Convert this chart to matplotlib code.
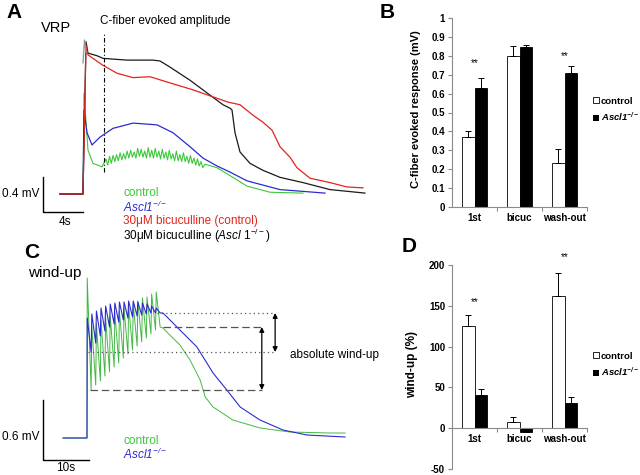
import numpy as np
import matplotlib.pyplot as plt
from matplotlib.patches import Patch

plt.rcParams['font.family'] = ['Liberation Sans', 'DejaVu Sans']
plt.rcParams['mathtext.fontset'] = 'custom'
plt.rcParams['mathtext.rm'] = 'Liberation Sans'
plt.rcParams['mathtext.it'] = 'Liberation Sans:italic'
plt.rcParams['mathtext.bf'] = 'Liberation Sans:bold'

# ---- Panel A: VRP traces, time (s) after stimulus vs amplitude (mV)
a_black_t = [-2.3, 0.0, 0.3, 0.5, 1.4, 2.0, 4.4, 7.0, 7.7, 8.7, 10.7, 12.7, 14.0, 14.7, 14.9,
             15.2, 15.7, 16.7, 18.0, 19.7, 22.0, 24.7, 28.2]
a_black_v = [0.0, 0.0, 1.74, 1.61, 1.58, 1.55, 1.53, 1.53, 1.52, 1.45, 1.30, 1.13, 1.02, 0.98, 0.96,
             0.70, 0.48, 0.35, 0.27, 0.19, 0.13, 0.05, 0.01]
a_red_t = [-2.3, 0.0, 0.3, 0.5, 2.0, 3.4, 5.0, 6.7, 8.4, 11.0, 13.0, 14.5, 14.9, 15.7, 17.0, 18.0,
           18.9, 19.7, 20.7, 21.4, 22.7, 24.7, 26.4, 28.0]
a_red_v = [0.0, 0.0, 1.70, 1.59, 1.47, 1.38, 1.33, 1.34, 1.28, 1.19, 1.11, 1.05, 1.04, 1.02, 0.90, 0.82,
           0.73, 0.54, 0.42, 0.30, 0.18, 0.13, 0.08, 0.07]
a_blue_t = [-2.3, 0.0, 0.1, 0.4, 0.9, 1.7, 3.0, 5.0, 7.4, 9.0, 10.7, 12.0, 13.4, 14.7, 16.4, 19.7, 24.2]
a_blue_v = [0.0, 0.0, 0.96, 0.70, 0.56, 0.65, 0.75, 0.81, 0.79, 0.70, 0.54, 0.41, 0.32, 0.25, 0.15, 0.05, 0.01]
a_green_head_t = [-2.3, 0.0, 0.1, 0.5, 1.0, 1.9]
a_green_head_v = [0.0, 0.0, 1.15, 0.50, 0.35, 0.31]
# ripple of the control trace (peaks / troughs)
a_green_hi = [0.40, 0.43, 0.44, 0.45, 0.47, 0.46, 0.49, 0.50, 0.48, 0.52, 0.51, 0.49, 0.53, 0.50,
              0.52, 0.49, 0.51, 0.48, 0.50, 0.46, 0.49, 0.45, 0.47, 0.43, 0.44, 0.41, 0.40, 0.37]
a_green_lo = [0.33, 0.35, 0.37, 0.38, 0.39, 0.40, 0.41, 0.42, 0.41, 0.43, 0.42, 0.41, 0.42, 0.41,
              0.42, 0.40, 0.41, 0.39, 0.40, 0.38, 0.38, 0.37, 0.37, 0.35, 0.35, 0.33, 0.32, 0.30]
a_green_tail_t = [12.2, 13.4, 14.7, 16.4, 18.7, 22.0]
a_green_tail_v = [0.34, 0.30, 0.21, 0.09, 0.02, 0.01]
a_artifact_t = [0.0, 0.15, 0.3]
a_artifact_v = [1.50, 1.76, 1.62]

# ---- Panel C: wind-up, 16 stimuli at 1 Hz
c_n_stim = 16
c_green_peaks = [1.60, 1.12, 1.14, 1.18, 1.20, 1.22, 1.26, 1.27, 1.30, 1.33, 1.34, 1.37, 1.40, 1.41, 1.44, 1.46]
c_green_troughs = [0.48, 0.53, 0.57, 0.62, 0.66, 0.71, 0.75, 0.80, 0.84, 0.88, 0.92, 0.96, 1.00, 1.04, 1.08, 1.11]
c_blue_peaks = [1.20, 1.24, 1.27, 1.30, 1.32, 1.34, 1.35, 1.36, 1.36, 1.37, 1.37, 1.36, 1.35, 1.34, 1.32, 1.30]
c_blue_troughs = [0.86, 0.95, 1.02, 1.07, 1.11, 1.14, 1.16, 1.18, 1.20, 1.21, 1.22, 1.23, 1.24, 1.25, 1.25, 1.25]
c_green_tail_t = [16.5, 18.0, 20.2, 22.4, 24.6, 25.7, 27.4, 31.7, 37.6, 44.1, 52.8, 56.1]
c_green_tail_v = [1.10, 1.03, 0.93, 0.78, 0.58, 0.41, 0.31, 0.18, 0.10, 0.06, 0.05, 0.05]
c_blue_tail_t = [16.5, 17.4, 20.2, 23.9, 27.4, 30.4, 33.3, 37.6, 42.6, 47.8, 56.1]
c_blue_tail_v = [1.25, 1.21, 1.08, 0.91, 0.65, 0.48, 0.31, 0.18, 0.08, 0.03, 0.01]

# ---- Panels B and D: bar charts
categories = ['1st', 'bicuc', 'wash-out']
b_ctrl = [0.37, 0.80, 0.235]
b_ctrl_err = [0.03, 0.05, 0.07]
b_ko = [0.63, 0.845, 0.71]
b_ko_err = [0.055, 0.01, 0.035]
b_stars = [0.76, None, 0.80]
d_ctrl = [125, 7, 162]
d_ctrl_err = [14, 7, 28]
d_ko = [41, -5, 31]
d_ko_err = [7, 0, 7]
d_stars = [154, None, 210]

GREEN = '#3cc83c'
GREEN_C = '#44b844'
BLUE = '#2b2bd0'
RED = '#e3241b'
BLACK = '#1a1a1a'
AXGRAY = '#8a8a8a'
KO = 'Ascl1$^{\\mathregular{-/-}}$'

fig = plt.figure(figsize=(6.4, 4.75), dpi=100)


def px_axes(left, top, right, bottom):
    return fig.add_axes([left / 640, 1 - bottom / 475, (right - left) / 640, (bottom - top) / 475])


def label(x, y, s, **kw):
    kw.setdefault('va', 'center')
    fig.text(x / 640, 1 - y / 475, s, **kw)


# ================= Panel A
axA = px_axes(0, 0, 400, 240)
axA.set_xlim(-8.3, 31.7)
axA.set_ylim(-0.526, 2.217)
axA.axis('off')

hi_t = np.linspace(2.3, 11.8, len(a_green_hi))
lo_t = hi_t + (hi_t[1] - hi_t[0]) / 2
rip_t = np.column_stack([hi_t, lo_t]).ravel()
rip_v = np.column_stack([a_green_hi, a_green_lo]).ravel()
green_t = np.concatenate([a_green_head_t, rip_t, a_green_tail_t])
green_v = np.concatenate([a_green_head_v, rip_v, a_green_tail_v])

axA.plot(green_t, green_v, color=GREEN, lw=0.8)
axA.plot(a_blue_t, a_blue_v, color=BLUE, lw=0.9)
axA.plot(a_black_t, a_black_v, color=BLACK, lw=0.9)
axA.plot(a_red_t, a_red_v, color=RED, lw=0.9)
axA.plot(a_artifact_t, a_artifact_v, color='#999999', lw=1.0)

# measuring point of the C-fiber evoked amplitude
axA.plot([2.1, 2.1], [0.25, 1.85], color='black', lw=0.8, ls=(0, (4, 2, 1, 2)))

# scale bar 4 s / 0.4 mV
axA.plot([-4.0, -4.0, 0.0], [0.194, -0.206, -0.206], color='black', lw=1.0)

label(14, 13, 'A', fontsize=15, fontweight='bold', ha='center')
label(41, 28, 'VRP', fontsize=10.5)
label(100, 21, 'C-fiber evoked amplitude', fontsize=8.5)
label(2, 194, '0.4 mV', fontsize=8.5)
label(65, 222, '4s', fontsize=8.5, ha='center')
label(123, 193, 'control', fontsize=8.5, color=GREEN)
label(123, 207, KO, fontsize=8.5, color=BLUE, style='italic')
label(123, 221, '30\u03bcM bicuculline (control)', fontsize=8.5, color=RED)
label(123, 236, '30\u03bcM bicuculline ($\\mathit{Ascl\\ 1}^{-/-}$)', fontsize=8.5, color='black')

# ================= Panel C
axC = px_axes(0, 240, 400, 475)
axC.set_xlim(-18.91, 68.04)
axC.set_ylim(-0.37, 1.98)
axC.axis('off')

stim_times = np.arange(c_n_stim) * 1.0


def wind_up_trace(peaks, troughs, tail_t, tail_v):
    t = [-5.2, 0.0]
    v = [0.0, 0.0]
    for s, p, tr in zip(stim_times, peaks, troughs):
        t += [s + 0.05, s + 0.9]
        v += [p, tr]
    return t + tail_t, v + tail_v


gt, gv = wind_up_trace(c_green_peaks, c_green_troughs, c_green_tail_t, c_green_tail_v)
bt, bv = wind_up_trace(c_blue_peaks, c_blue_troughs, c_blue_tail_t, c_blue_tail_v)
axC.plot(gt, gv, color=GREEN_C, lw=0.7)
axC.plot(bt, bv, color=BLUE, lw=0.8)

# reference levels of the absolute wind-up
blue_top, blue_low = max(c_blue_troughs), c_blue_troughs[0]
green_top, green_low = c_green_troughs[-1], c_green_troughs[0]
dot = dict(color='#555555', lw=0.9, ls=(0, (1, 2.5)))
dash = dict(color='#555555', lw=0.9, ls=(0, (6, 3)))
axC.plot([15.2, 40.9], [blue_top, blue_top], **dot)
axC.plot([0.2, 40.9], [blue_low, blue_low], **dot)
axC.plot([16.5, 38.0], [green_top, green_top], **dash)
axC.plot([0.6, 38.0], [green_low, green_low], **dash)
arrow = dict(arrowstyle='<|-|>', color='black', lw=0.9, mutation_scale=7, shrinkA=0, shrinkB=0)
axC.annotate('', xy=(40.9, blue_top), xytext=(40.9, blue_low), arrowprops=arrow)
axC.annotate('', xy=(38.0, green_top), xytext=(38.0, green_low), arrowprops=arrow)

# scale bar 10 s / 0.6 mV
axC.plot([-9.57, -9.57, 0.43], [0.38, -0.22, -0.22], color='black', lw=1.0)

label(32, 253, 'C', fontsize=15, fontweight='bold', ha='center')
label(28, 273, 'wind-up', fontsize=11)
label(290, 355, 'absolute wind-up', fontsize=8.5)
label(2, 437, '0.6 mV', fontsize=8.5)
label(66, 468, '10s', fontsize=8.5, ha='center')
label(123, 441, 'control', fontsize=8.5, color=GREEN)
label(123, 454, KO, fontsize=8.5, color=BLUE, style='italic')


# ================= Bar panels
def bar_panel(ax, ctrl, ctrl_err, ko, ko_err, stars, zero_axis=False):
    if zero_axis:
        ax.spines['bottom'].set_position(('data', 0))
    x = np.arange(len(categories))
    w = 0.28
    ekw = dict(lw=0.7, capsize=2.5, capthick=0.7, ecolor='black')
    ax.bar(x - w / 2, ctrl, w, color='white', edgecolor='black', lw=0.6,
           yerr=[np.zeros(3), ctrl_err], error_kw=ekw, zorder=2)
    ax.bar(x + w / 2, ko, w, color='black', edgecolor='black', lw=0.6,
           yerr=[np.zeros(3), ko_err], error_kw=ekw, zorder=2)
    for xi, s in zip(x, stars):
        if s is not None:
            ax.text(xi, s, '**', ha='center', va='center', fontsize=7, clip_on=False)
    ax.set_xlim(-0.5, 2.5)
    for side in ['top', 'right']:
        ax.spines[side].set_visible(False)
    for side in ['left', 'bottom']:
        ax.spines[side].set_color(AXGRAY)
        ax.spines[side].set_linewidth(0.8)
    ax.set_xticks(x, categories, fontsize=7, fontweight='bold')
    ax.set_xticks([0.5, 1.5, 2.5], minor=True)
    ax.tick_params(axis='x', which='major', length=0, pad=4)
    ax.tick_params(axis='x', which='minor', length=3, color=AXGRAY, width=0.8)
    ax.tick_params(axis='y', length=3, color=AXGRAY, width=0.8, pad=2)
    handles = [Patch(facecolor='white', edgecolor='black', lw=0.6), Patch(facecolor='black')]
    return handles


def bar_legend(ax, handles, y):
    leg = ax.legend(handles, ['control', KO], loc='center left', bbox_to_anchor=(593 / 640, 1 - y / 475),
                    bbox_transform=fig.transFigure, frameon=False, handlelength=0.6, handleheight=0.6,
                    handletextpad=0.25, labelspacing=0.55, borderpad=0, borderaxespad=0,
                    prop=dict(size=6.8, weight='bold'))
    leg.get_texts()[1].set_style('italic')


axB = px_axes(452, 18, 587, 207)
hB = bar_panel(axB, b_ctrl, b_ctrl_err, b_ko, b_ko_err, b_stars)
axB.set_ylim(0, 1)
b_ticks = np.round(np.arange(0, 1.01, 0.1), 1)
axB.set_yticks(b_ticks, ['0'] + ['%.1f' % t for t in b_ticks[1:-1]] + ['1'], fontsize=7, fontweight='bold')
axB.set_ylabel('C-fiber evoked response (mV)', fontsize=8, fontweight='bold')
axB.yaxis.set_label_coords(-0.23, 0.52)
bar_legend(axB, hB, 110)

axD = px_axes(452, 265, 587, 469)
hD = bar_panel(axD, d_ctrl, d_ctrl_err, d_ko, d_ko_err, d_stars, zero_axis=True)
axD.set_ylim(-50, 200)
axD.set_yticks([-50, 0, 50, 100, 150, 200], ['-50', '0', '50', '100', '150', '200'],
               fontsize=7, fontweight='bold')
axD.set_ylabel('wind-up (%)', fontsize=8.5, fontweight='bold')
axD.yaxis.set_label_coords(-0.25, 0.51)
bar_legend(axD, hD, 365)

label(387, 12, 'B', fontsize=15, fontweight='bold', ha='center')
label(409, 246, 'D', fontsize=15, fontweight='bold', ha='center')

fig.savefig('out.png', dpi=100)
